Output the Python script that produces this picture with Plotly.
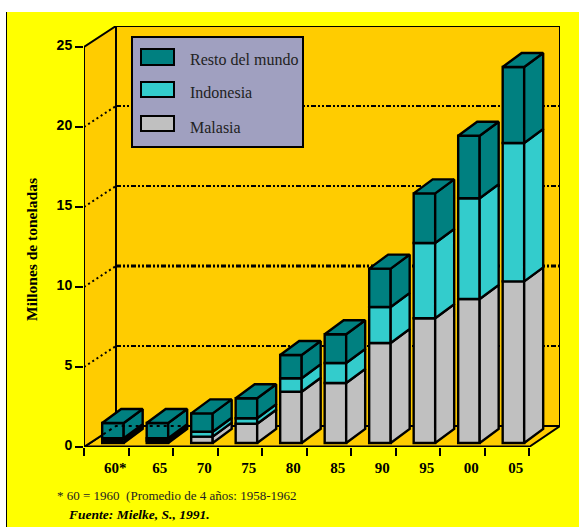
import plotly.graph_objects as go

categories = ["60*", "65", "70", "75", "80", "85", "90", "95", "00", "05"]
malasia = [0.15, 0.15, 0.4, 1.2, 3.2, 3.75, 6.25, 7.8, 9.0, 10.1]
indonesia = [0.15, 0.15, 0.3, 0.35, 0.85, 1.25, 2.25, 4.7, 6.3, 8.65]
resto = [0.95, 0.95, 1.15, 1.25, 1.45, 1.8, 2.4, 3.1, 3.9, 4.75]
y_ticks = [0, 5, 10, 15, 20, 25]
grid_levels = [5, 10, 15, 20]

COL_R, COL_I, COL_M = "#008080", "#33CCCC", "#C0C0C0"
WALL, PAGE, LEG = "#FFCC00", "#FFFF00", "#A0A0C0"
SERIF = "Liberation Serif"

W, H = 579, 527
L, R, T, B = 84, 560, 26, 447      # plot rectangle in pixels
CAT_PX, VAL_PX = 44.5, 16.0        # pixels per category / per unit
DX, DY = 32 / CAT_PX, 21 / VAL_PX  # depth of the box in axis units
BAR_DX, BAR_DY = 19 / CAT_PX, 14 / VAL_PX
BAR_W = 21.5 / CAT_PX
BAR_C = 0.65
BASE = 4 / VAL_PX
YMAX = (B - T) / VAL_PX
XMAX = (R - L) / CAT_PX
BAR_LW = 2.4


def px(x):
    return (x - L) / (R - L)


def py(y):
    return (B - y) / (B - T)


def dx(x):
    return (x - L) / CAT_PX


def dy(y):
    return (B - y) / VAL_PX


fig = go.Figure()
shapes = []
annots = []


def rect_data(x0, y0, x1, y1, fill, lw=2):
    shapes.append(dict(type="rect", xref="x", yref="y", x0=dx(x0), x1=dx(x1), y0=dy(y0), y1=dy(y1),
                       fillcolor=fill, layer="below", line=dict(color="black", width=lw)))


def poly_data(pts, fill, lw=2):
    path = "M" + " L".join(f"{a},{b}" for a, b in pts) + " Z"
    shapes.append(dict(type="path", xref="x", yref="y", path=path, fillcolor=fill, layer="below",
                       line=dict(color="black", width=lw)))


def line_data(x0, y0, x1, y1, width=2, dash="solid", color="black"):
    shapes.append(dict(type="line", xref="x", yref="y", x0=x0, y0=y0, x1=x1, y1=y1, layer="below",
                       line=dict(color=color, width=width, dash=dash)))


# page
shapes.append(dict(type="rect", xref="paper", yref="paper", x0=px(7), x1=px(579), y0=py(12), y1=py(527),
                   fillcolor=PAGE, layer="below", line=dict(width=0)))
shapes.append(dict(type="line", xref="paper", yref="paper", x0=px(6.5), x1=px(6.5), y0=py(12), y1=py(527),
                   layer="below", line=dict(color="black", width=1)))

n = len(categories)
top = 25
# box: floor, left wall, back wall
poly_data([(0, 0), (DX, DY), (XMAX, DY), (n, 0)], WALL)
poly_data([(0, 0), (DX, DY), (DX, top + DY), (0, top)], WALL)
poly_data([(DX, DY), (XMAX, DY), (XMAX, top + DY), (DX, top + DY)], WALL)
line_data(0, 0, n, 0, width=3)
line_data(0, 0, 0, top, width=2)

# dotted grid on the walls
for v in grid_levels:
    w = 3 if v == 10 else 2
    line_data(0, v, DX, v + DY, width=2, dash="2px,3px")
    line_data(DX, v + DY, XMAX, v + DY, width=w, dash="5px,2px,2px,2px,2px,2px")

# legend box
rect_data(132, 37, 303, 147, LEG)
legend_items = [("Resto del mundo", COL_R, 57, 59), ("Indonesia", COL_I, 90, 93), ("Malasia", COL_M, 124, 127)]
for name, col, yc, yt in legend_items:
    rect_data(141, yc - 8, 174, yc + 8 if col == COL_R else yc + 7, col)
    annots.append(dict(text=name, x=px(187.5), y=py(yt), xref="paper", yref="paper", xanchor="left",
                       yanchor="middle", showarrow=False, font=dict(family=SERIF, size=16, color="#222222")))

# front faces of the bars, stacked
x_pos = [i + BAR_C for i in range(n)]
label_pos = [i + BAR_C + 0.05 for i in range(n)]
bases_m = [BASE] * n
bases_i = [b + m for b, m in zip(bases_m, malasia)]
bases_r = [b + v for b, v in zip(bases_i, indonesia)]
for name, vals, bases, col in [("Malasia", malasia, bases_m, COL_M),
                               ("Indonesia", indonesia, bases_i, COL_I),
                               ("Resto del mundo", resto, bases_r, COL_R)]:
    fig.add_trace(go.Bar(name=name, x=x_pos, y=vals, base=bases, width=BAR_W, marker_color=col,
                         marker_line=dict(color="black", width=BAR_LW), showlegend=False))

# side and top faces, derived from the same values
for i in range(n):
    x1 = x_pos[i] + BAR_W / 2
    x0 = x_pos[i] - BAR_W / 2
    for vals, bases, col in [(malasia, bases_m, COL_M), (indonesia, bases_i, COL_I), (resto, bases_r, COL_R)]:
        b0, b1 = bases[i], bases[i] + vals[i]
        fig.add_trace(go.Scatter(x=[x1, x1 + BAR_DX, x1 + BAR_DX, x1, x1],
                                 y=[b0, b0 + BAR_DY, b1 + BAR_DY, b1, b0], mode="lines", fill="toself",
                                 fillcolor=col, line=dict(color="black", width=BAR_LW), showlegend=False,
                                 hoverinfo="skip"))
    t = bases_r[i] + resto[i]
    fig.add_trace(go.Scatter(x=[x0, x1, x1 + BAR_DX, x0 + BAR_DX, x0],
                             y=[t, t, t + BAR_DY, t + BAR_DY, t], mode="lines", fill="toself",
                             fillcolor=COL_R, line=dict(color="black", width=BAR_LW), showlegend=False,
                             hoverinfo="skip"))

# floor-level dotted line that crosses the first bars
fig.add_trace(go.Scatter(x=[DX * 0.6, DX, 2.25], y=[DY * 0.6, DY, DY], mode="lines",
                         line=dict(color="black", width=2, dash="3px,4px"), showlegend=False,
                         hoverinfo="skip"))

annots.append(dict(text="<b>Millones de toneladas</b>", x=px(31), y=py(250), xref="paper", yref="paper",
                   xanchor="center", yanchor="middle", textangle=-90, showarrow=False,
                   font=dict(family=SERIF, size=15.5, color="black")))
annots.append(dict(text="* 60 = 1960  (Promedio de 4 años: 1958-1962", x=px(55), y=py(495), xref="paper",
                   yref="paper", xanchor="left", yanchor="middle", showarrow=False,
                   font=dict(family=SERIF, size=13, color="#222222")))
annots.append(dict(text="<b><i>Fuente: Mielke, S., 1991.</i></b>", x=px(66), y=py(514), xref="paper",
                   yref="paper", xanchor="left", yanchor="middle", showarrow=False,
                   font=dict(family=SERIF, size=13.5, color="black")))

fig.update_layout(
    width=W, height=H, margin=dict(l=L, r=W - R, t=T, b=H - B, pad=0),
    paper_bgcolor="white", plot_bgcolor="rgba(0,0,0,0)", barmode="overlay", showlegend=False,
    shapes=shapes, annotations=annots,
    xaxis=dict(range=[0, XMAX], tickmode="array", tickvals=label_pos, ticktext=categories, ticks="outside",
               ticklen=7, tickcolor="rgba(0,0,0,0)", showgrid=False, zeroline=False, showline=False,
               tickfont=dict(family=SERIF, size=15, color="black", weight="bold"),
               minor=dict(tickmode="array", tickvals=list(range(n + 1)), ticks="outside", ticklen=8,
                          tickwidth=2, tickcolor="black", showgrid=False)),
    yaxis=dict(range=[0, YMAX], tickmode="array", tickvals=y_ticks, ticks="outside", ticklen=8, tickwidth=2,
               tickcolor="black", showgrid=False, zeroline=False, showline=False, ticklabelshift=-2,
               tickfont=dict(family="Liberation Sans", size=14, color="black", weight="bold")),
)

fig.write_html("out.html", config=dict(displayModeBar=False),
               post_script="document.body.style.margin='0';")
